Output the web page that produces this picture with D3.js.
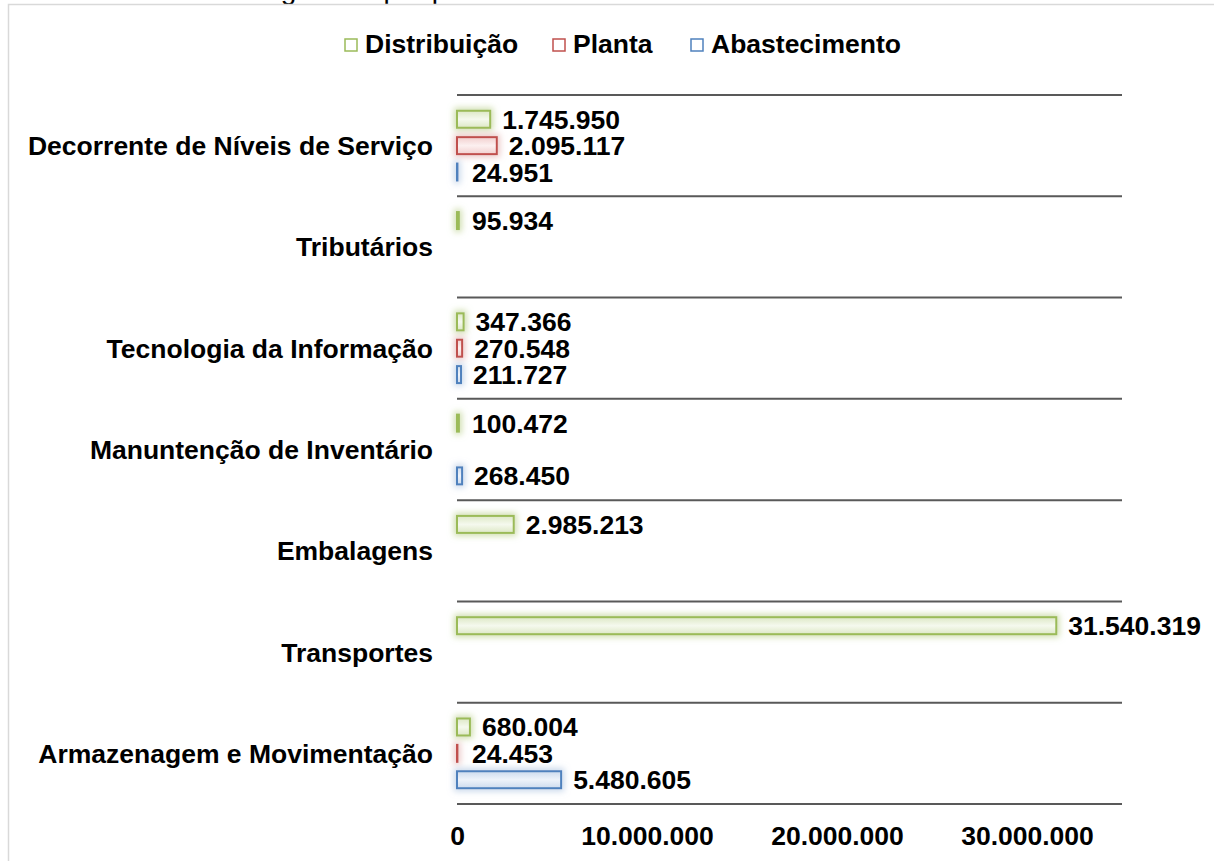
<!DOCTYPE html>
<html lang="pt">
  <head>
    <meta charset="UTF-8" />
    <title>Custos logísticos por processo</title>
    <script src="https://d3js.org/d3.v7.min.js"></script>
    <style>
      body { margin: 0; background: #fff; }
      text { font-family: 'Liberation Sans', Arial, sans-serif; }
    </style>
  </head>
  <body>
    <svg width="1214" height="861"></svg>

    <script>
      // Data
      const categories = [
        'Decorrente de Níveis de Serviço',
        'Tributários',
        'Tecnologia da Informação',
        'Manuntenção de Inventário',
        'Embalagens',
        'Transportes',
        'Armazenagem e Movimentação',
      ];
      const seriesNames = ['Distribuição', 'Planta', 'Abastecimento'];
      const distribuicao = [1745950, 95934, 347366, 100472, 2985213, 31540319, 680004];
      const planta = [2095117, null, 270548, null, null, null, 24453];
      const abastecimento = [24951, null, 211727, 268450, null, null, 5480605];
      const xTicks = [0, 10000000, 20000000, 30000000];

      const seriesValues = [distribuicao, planta, abastecimento];
      const colors = {
        'Distribuição': { stroke: '#9bbb59', light: '#dde8c6', pale: '#f5f9ee', glow: '#c3d69b' },
        'Planta': { stroke: '#c0504d', light: '#f2cfce', pale: '#fcf0f0', glow: '#e6b9b8' },
        'Abastecimento': { stroke: '#4f81bd', light: '#cddbee', pale: '#eef3fa', glow: '#b9cde5' },
      };
      const fontSize = '26.5px';

      const locale = d3.formatLocale({ decimal: ',', thousands: '.', grouping: [3], currency: ['R$', ''] });
      const fmt = locale.format(',d');

      const svg = d3.select('svg');
      const defs = svg.append('defs');

      // Gradients and glow filters per series
      seriesNames.forEach((s, i) => {
        const c = colors[s];
        const g = defs.append('linearGradient').attr('id', 'grad' + i)
          .attr('x1', 0).attr('y1', 0).attr('x2', 0).attr('y2', 1);
        g.append('stop').attr('offset', '0%').attr('stop-color', c.light);
        g.append('stop').attr('offset', '50%').attr('stop-color', c.pale);
        g.append('stop').attr('offset', '100%').attr('stop-color', c.light);

        const f = defs.append('filter').attr('id', 'glow' + i)
          .attr('filterUnits', 'userSpaceOnUse')
          .attr('x', 0).attr('y', 0).attr('width', 1214).attr('height', 861);
        f.append('feMorphology').attr('in', 'SourceAlpha').attr('operator', 'dilate').attr('radius', 2).attr('result', 'd');
        f.append('feGaussianBlur').attr('in', 'd').attr('stdDeviation', 3).attr('result', 'b');
        f.append('feFlood').attr('flood-color', c.glow).attr('flood-opacity', 0.8);
        f.append('feComposite').attr('in2', 'b').attr('operator', 'in').attr('result', 'gl');
        const m = f.append('feMerge');
        m.append('feMergeNode').attr('in', 'gl');
        m.append('feMergeNode').attr('in', 'SourceGraphic');
      });

      // Caption above the chart frame (cut off by the page top, as in the source)
      svg.append('text')
        .attr('x', 164).attr('y', -1)
        .style('font-size', '28px')
        .attr('fill', '#000')
        .text('Custos logísticos por processo');

      // Chart frame
      svg.append('path')
        .attr('d', 'M8.5,900 V4.5 H1300')
        .attr('fill', 'none')
        .attr('stroke', '#d9d9d9')
        .attr('stroke-width', 1.5);

      // Scales
      const x = d3.scaleLinear().domain([0, 35000000]).range([457, 1122]);
      const y = d3.scaleBand().domain(categories).range([95, 804]).padding(0);
      const yInner = d3.scaleBand().domain(seriesNames).range([0, y.bandwidth()])
        .paddingInner(0).paddingOuter(0.42);
      const barH = 17;

      // Category gridlines
      const lines = d3.range(categories.length + 1).map((i) => 95 + i * y.step());
      svg.selectAll('.grid')
        .data(lines)
        .enter()
        .append('line')
        .attr('class', 'grid')
        .attr('x1', x(0)).attr('x2', x.range()[1])
        .attr('y1', (d) => d).attr('y2', (d) => d)
        .attr('stroke', '#595959')
        .attr('stroke-width', 2);

      // Bars
      const rows = [];
      seriesNames.forEach((s, si) => {
        categories.forEach((c, ci) => {
          const v = seriesValues[si][ci];
          if (v !== null) rows.push({ s, si, c, v });
        });
      });
      const yBar = (d) => y(d.c) + yInner(d.s) + (yInner.bandwidth() - barH) / 2;

      svg.selectAll('.bar')
        .data(rows)
        .enter()
        .append('rect')
        .attr('class', 'bar')
        .attr('x', x(0))
        .attr('y', yBar)
        .attr('width', (d) => x(d.v) - x(0))
        .attr('height', barH)
        .attr('fill', (d) => 'url(#grad' + d.si + ')')
        .attr('stroke', (d) => colors[d.s].stroke)
        .attr('stroke-width', 2)
        .attr('filter', (d) => 'url(#glow' + d.si + ')');

      // Value labels
      svg.selectAll('.label')
        .data(rows)
        .enter()
        .append('text')
        .attr('class', 'label')
        .attr('x', (d) => Math.max(x(d.v) + 12, 472))
        .attr('y', (d) => yBar(d) + barH / 2 + 9.5)
        .style('font-size', fontSize)
        .style('font-weight', 'bold')
        .text((d) => fmt(d.v));

      // Category labels
      svg.selectAll('.cat')
        .data(categories)
        .enter()
        .append('text')
        .attr('class', 'cat')
        .attr('x', 433)
        .attr('y', (d) => y(d) + y.bandwidth() / 2 + 9.5)
        .attr('text-anchor', 'end')
        .style('font-size', fontSize)
        .style('font-weight', 'bold')
        .text((d) => d);

      // X axis
      const axis = svg.append('g')
        .attr('transform', 'translate(0,818)')
        .call(d3.axisBottom(x).tickValues(xTicks).tickFormat(fmt).tickSize(0).tickPadding(0));
      axis.select('.domain').remove();
      axis.selectAll('text')
        .attr('dy', null)
        .attr('y', 27)
        .attr('fill', '#000')
        .style('font-size', fontSize)
        .style('font-weight', 'bold')
        .style('font-family', "'Liberation Sans', Arial, sans-serif");

      // Legend
      const legendX = [344, 552, 690];
      const legend = svg.selectAll('.legend')
        .data(seriesNames)
        .enter()
        .append('g')
        .attr('class', 'legend')
        .attr('transform', (d, i) => 'translate(' + legendX[i] + ',0)');
      legend.append('rect')
        .attr('x', 1).attr('y', 39)
        .attr('width', 12).attr('height', 12)
        .attr('fill', '#fff')
        .attr('stroke', (d) => colors[d].stroke)
        .attr('stroke-width', 1.5);
      legend.append('text')
        .attr('x', 21).attr('y', 53)
        .style('font-size', fontSize)
        .style('font-weight', 'bold')
        .text((d) => d);
    </script>
  </body>
</html>
